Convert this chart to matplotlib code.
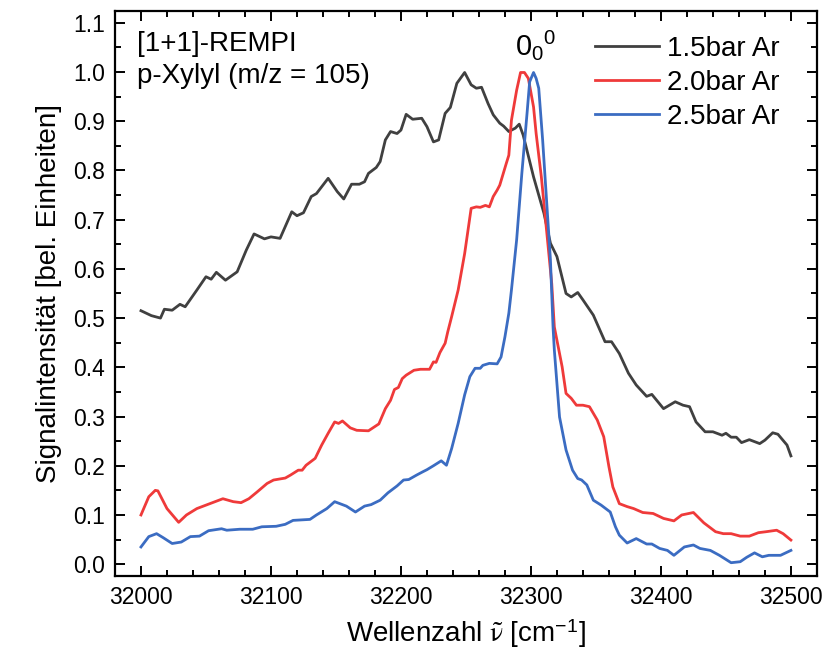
import numpy as np
import matplotlib.pyplot as plt

# REMPI-Spektren von p-Xylyl bei verschiedenen Ar-Vordruecken

plt.rcParams['font.family'] = ['Liberation Sans', 'DejaVu Sans']
plt.rcParams['mathtext.fontset'] = 'stix'

# 1.5 bar Ar
x15 = [32000, 32008, 32015, 32018, 32024, 32030, 32034, 32043, 32050, 32054,
       32058, 32065, 32074, 32081, 32087, 32095, 32100, 32107, 32116, 32120,
       32125, 32131, 32135, 32144, 32151, 32156, 32162, 32168, 32172, 32175,
       32181, 32184, 32188, 32192, 32197, 32200, 32204, 32209, 32216, 32220,
       32225, 32229, 32234, 32238, 32243, 32249, 32254, 32258, 32262, 32267,
       32271, 32276, 32279, 32283, 32288, 32291, 32294, 32302, 32310, 32315,
       32320, 32327, 32331, 32336, 32340, 32348, 32357, 32362, 32368, 32375,
       32381, 32389, 32393, 32402, 32411, 32417, 32422, 32427, 32434, 32440,
       32447, 32450, 32454, 32458, 32462, 32468, 32476, 32480, 32486, 32490,
       32497, 32500]
y15 = [0.515, 0.505, 0.500, 0.518, 0.516, 0.528, 0.523, 0.557, 0.584, 0.579,
       0.593, 0.577, 0.594, 0.638, 0.671, 0.661, 0.665, 0.662, 0.716, 0.708,
       0.714, 0.747, 0.753, 0.784, 0.757, 0.742, 0.772, 0.772, 0.777, 0.794,
       0.806, 0.818, 0.862, 0.879, 0.875, 0.882, 0.914, 0.904, 0.906, 0.889,
       0.858, 0.862, 0.916, 0.928, 0.977, 0.999, 0.974, 0.967, 0.969, 0.936,
       0.913, 0.896, 0.890, 0.879, 0.886, 0.894, 0.872, 0.787, 0.713, 0.652,
       0.625, 0.550, 0.543, 0.552, 0.537, 0.506, 0.452, 0.452, 0.428, 0.388,
       0.364, 0.341, 0.345, 0.316, 0.330, 0.323, 0.320, 0.289, 0.269, 0.269,
       0.262, 0.266, 0.258, 0.258, 0.247, 0.253, 0.245, 0.252, 0.267, 0.264,
       0.242, 0.220]

# 2.0 bar Ar
x20 = [32000, 32006, 32011, 32013, 32020, 32029, 32035, 32043, 32051, 32057,
       32063, 32071, 32077, 32083, 32089, 32097, 32102, 32111, 32115, 32121,
       32124, 32127, 32134, 32139, 32144, 32149, 32152, 32155, 32161, 32166,
       32175, 32183, 32188, 32192, 32195, 32198, 32201, 32204, 32210, 32215,
       32222, 32225, 32227, 32230, 32234, 32236, 32239, 32244, 32249, 32254,
       32258, 32261, 32265, 32268, 32271, 32274, 32276, 32281, 32283, 32285,
       32289, 32292, 32295, 32298, 32302, 32304, 32308, 32312, 32316, 32318,
       32320, 32324, 32327, 32331, 32335, 32340, 32345, 32351, 32356, 32360,
       32363, 32368, 32374, 32379, 32386, 32394, 32402, 32410, 32416, 32425,
       32433, 32442, 32448, 32454, 32461, 32468, 32475, 32481, 32489, 32494,
       32500]
y20 = [0.100, 0.137, 0.150, 0.149, 0.113, 0.085, 0.100, 0.113, 0.121, 0.127,
       0.133, 0.127, 0.125, 0.133, 0.146, 0.164, 0.171, 0.175, 0.181, 0.191,
       0.191, 0.201, 0.215, 0.242, 0.266, 0.289, 0.286, 0.291, 0.277, 0.272,
       0.271, 0.285, 0.316, 0.333, 0.355, 0.359, 0.377, 0.384, 0.394, 0.396,
       0.396, 0.411, 0.410, 0.430, 0.449, 0.472, 0.503, 0.557, 0.631, 0.723,
       0.726, 0.725, 0.729, 0.726, 0.747, 0.760, 0.770, 0.814, 0.831, 0.902,
       0.963, 0.999, 0.999, 0.987, 0.929, 0.875, 0.787, 0.679, 0.570, 0.482,
       0.455, 0.401, 0.347, 0.337, 0.323, 0.323, 0.320, 0.293, 0.259, 0.198,
       0.157, 0.123, 0.117, 0.113, 0.105, 0.103, 0.093, 0.088, 0.100, 0.105,
       0.084, 0.066, 0.062, 0.062, 0.057, 0.057, 0.064, 0.066, 0.069, 0.062,
       0.049]

# 2.5 bar Ar
x25 = [32000, 32006, 32012, 32017, 32024, 32031, 32038, 32045, 32052, 32062,
       32066, 32076, 32086, 32093, 32104, 32111, 32117, 32130, 32135, 32143,
       32149, 32158, 32165, 32172, 32177, 32184, 32190, 32197, 32202, 32206,
       32212, 32217, 32220, 32225, 32231, 32235, 32239, 32244, 32249, 32253,
       32257, 32261, 32263, 32268, 32274, 32277, 32280, 32283, 32285, 32289,
       32293, 32297, 32299, 32302, 32304, 32306, 32309, 32312, 32315, 32317,
       32318, 32322, 32327, 32332, 32336, 32339, 32343, 32348, 32354, 32361,
       32365, 32368, 32374, 32381, 32389, 32393, 32399, 32405, 32410, 32418,
       32425, 32430, 32438, 32445, 32454, 32461, 32466, 32472, 32478, 32483,
       32492, 32500]
y25 = [0.035, 0.056, 0.062, 0.054, 0.042, 0.045, 0.056, 0.057, 0.068, 0.072,
       0.069, 0.071, 0.071, 0.076, 0.077, 0.081, 0.089, 0.091, 0.100, 0.113,
       0.127, 0.118, 0.106, 0.118, 0.121, 0.130, 0.145, 0.159, 0.171, 0.172,
       0.181, 0.188, 0.192, 0.200, 0.210, 0.201, 0.235, 0.286, 0.344, 0.381,
       0.398, 0.398, 0.404, 0.408, 0.407, 0.421, 0.462, 0.510, 0.557, 0.659,
       0.794, 0.916, 0.980, 0.999, 0.987, 0.967, 0.862, 0.740, 0.618, 0.482,
       0.435, 0.299, 0.232, 0.191, 0.174, 0.171, 0.161, 0.130, 0.120, 0.106,
       0.076, 0.059, 0.043, 0.052, 0.041, 0.041, 0.032, 0.028, 0.018, 0.035,
       0.039, 0.032, 0.028, 0.018, 0.003, 0.005, 0.014, 0.023, 0.015, 0.018,
       0.018, 0.028]

labels = ['1.5bar Ar', '2.0bar Ar', '2.5bar Ar']
farben = ['#404040', '#ef3a3a', '#3b6cc2']

fig = plt.figure(figsize=(8.26, 6.61), dpi=100)
ax = fig.add_axes([0.1392, 0.1286, 0.8498, 0.8548])

for xs, ys, lab, c in zip([x15, x20, x25], [y15, y20, y25], labels, farben):
    ax.plot(xs, ys, color=c, lw=2.0, label=lab)

ax.set_xlim(31980, 32520)
ax.set_ylim(-0.024, 1.124)
ax.set_xticks(np.arange(32000, 32501, 100))
ax.set_xticks(np.arange(32000, 32521, 20), minor=True)
ax.set_yticks(np.arange(0, 1.11, 0.1))
ax.set_yticks(np.arange(0, 1.12, 0.05), minor=True)
ax.set_yticklabels([f'{v:.1f}' for v in np.arange(0, 1.11, 0.1)])

ax.tick_params(which='both', direction='in', top=True, right=True,
               labeltop=False, labelright=False, width=1.4, labelsize=16.5)
ax.tick_params(which='major', length=7, pad=7)
ax.tick_params(which='minor', length=4)
for s in ax.spines.values():
    s.set_linewidth(1.6)

ax.set_xlabel(r'Wellenzahl $\mathrm{\tilde{\nu}}$ [cm$^{\mathregular{-1}}$]', fontsize=20, labelpad=6)
ax.set_ylabel('Signalintensität [bel. Einheiten]', fontsize=20, labelpad=8)

ax.text(0.032, 0.965, '[1+1]-REMPI\np-Xylyl (m/z = 105)', transform=ax.transAxes,
        fontsize=20, va='top', ha='left', linespacing=1.3)
ax.text(32304, 1.055, r'$\mathregular{0_{0}{}^{0}}$', fontsize=21, ha='center', va='center')

ax.legend(loc='upper right', frameon=False, fontsize=20, handlelength=2.3,
          handletextpad=0.3, labelspacing=0.28, borderaxespad=0.3,
          bbox_to_anchor=(0.975, 0.99))

plt.savefig('out.png', dpi=100)
